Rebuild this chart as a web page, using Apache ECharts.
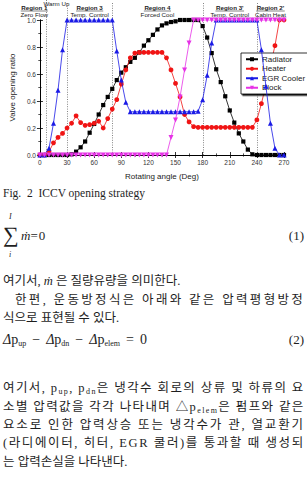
<!DOCTYPE html>
<html>
<head>
<meta charset="utf-8">
<script src="https://cdn.jsdelivr.net/npm/echarts@6/dist/echarts.min.js"></script>
<style>
html,body{margin:0;padding:0;background:#fff;width:307px;height:491px;overflow:hidden;}
#chart{position:absolute;left:0;top:0;width:307px;height:186px;}
.t{position:absolute;left:3px;width:301px;font-family:"Liberation Serif","Noto Sans CJK KR";font-size:12.5px;line-height:14px;color:#1e1e1e;white-space:nowrap;}
.ser{font-family:"Liberation Serif";}
sub{font-size:8px;vertical-align:-2px;line-height:0;}
.eq{position:absolute;font-family:"Liberation Serif";color:#1e1e1e;white-space:nowrap;}
.op{padding:0 6px;}
</style>
</head>
<body>
<div id="chart"></div>

<div class="t ser" style="top:186px;font-size:11.5px;">Fig.&nbsp; 2&nbsp; ICCV opening strategy</div>

<div class="eq" style="left:9px;top:212px;font-size:8px;line-height:10px;font-style:italic;">I</div>
<div class="eq" style="left:3px;top:223px;font-size:22px;line-height:24px;">&#8721;</div>
<div class="eq" style="left:9px;top:250px;font-size:8px;line-height:10px;font-style:italic;">i</div>
<div class="eq" style="left:21px;top:228px;font-size:13px;line-height:16px;"><i>&#7745;</i>=&#8202;0</div>
<div class="eq" style="right:3px;top:228px;font-size:13px;line-height:16px;">(1)</div>

<div class="t" style="top:274px;">여기서, <i>&#7745;</i> 은 질량유량을 의미한다.</div>
<div class="t j" style="top:293px;padding-left:12px;width:289px;">한편, 운동방정식은 아래와 같은 압력평형방정</div>
<div class="t" style="top:311px;">식으로 표현될 수 있다.</div>

<div class="eq" style="left:3px;top:332px;font-size:14px;line-height:16px;"><i>&#916;</i>p<sub>up</sub><span class="op">&#8722;</span><i>&#916;</i>p<sub>dn</sub><span class="op">&#8722;</span><i>&#916;</i>p<sub>elem</sub><span class="op">=</span>0</div>
<div class="eq" style="right:3px;top:332px;font-size:13px;line-height:16px;">(2)</div>

<div class="t j" style="top:381px;">여기서, p<sub>up</sub>, p<sub>dn</sub>은 냉각수 회로의 상류 및 하류의 요</div>
<div class="t j" style="top:400px;">소별 압력값을 각각 나타내며 △p<sub>elem</sub>은 펌프와 같은</div>
<div class="t j" style="top:418px;">요소로 인한 압력상승 또는 냉각수가 관, 열교환기</div>
<div class="t j" style="top:436px;">(라디에이터, 히터, EGR 쿨러)를 통과할 때 생성되</div>
<div class="t" style="top:455px;">는 압력손실을 나타낸다.</div>

<script>
// ---- data ----
const angles = [0,5,10,15,20,25,30,35,40,45,50,55,60,65,70,75,80,85,90,95,100,105,110,115,120,125,130,135,140,145,150,155,160,165,170,175,180,185,190,195,200,205,210,215,220,225,230,235,240,245,250,255,260,265,270];
const radiator = [0,0,0,0,0,0,0,0.005,0.025,0.057,0.10,0.165,0.23,0.30,0.37,0.43,0.49,0.555,0.61,0.65,0.69,0.72,0.76,0.81,0.85,0.89,0.93,0.96,0.975,0.985,0.99,1,1,1,1,1,0.955,0.87,0.755,0.635,0.54,0.435,0.33,0.24,0.16,0.10,0.04,0.005,0,0,0,0,0,0,0];
const heater = [0,0,0.025,0.09,0.13,0.16,0.20,0.235,0.29,0.24,0.22,0.225,0.235,0.25,0.20,0.27,0.34,0.41,0.525,0.63,0.72,0.755,0.76,0.76,0.76,0.76,0.76,0.76,0.72,0.63,0.53,0.43,0.30,0.245,0.21,0.205,0.205,0.205,0.205,0.205,0.205,0.205,0.205,0.205,0.205,0.205,0.205,0.205,0.26,0.38,0.52,0.66,0.81,1,1];
const egrCooler = [0,0,0.05,0.235,0.48,0.78,1,1,1,1,1,1,1,1,1,1,1,0.77,0.555,0.39,0.32,0.32,0.32,0.32,0.32,0.32,0.32,0.32,0.32,0.32,0.32,0.32,0.32,0.32,0.32,0.325,0.41,0.59,0.83,1,1,1,1,1,1,1,1,1,1,0.78,0.51,0.235,0.05,0,0];
const block = [0,0,0,0,0,0,0,0,0,0,0,0,0,0,0,0,0,0,0,0,0,0,0,0,0,0,0,0,0,0.13,0.26,0.43,0.63,0.83,1,1,1,1,1,1,1,1,1,1,1,1,1,1,1,1,1,1,1,1,1];
const seriesNames = ['Radiator','Heater','EGR Cooler','Block'];
const xTickValues = [0,30,60,90,120,150,180,210,240,270];
const yTickValues = [0.0,0.2,0.4,0.6,0.8,1.0];
const regionBounds = [0,6.5,30,80,180,240,270];
const regionTitles = ['Region 1','','Region 3','Region 4',"Region 3'","Region 2'"];
const regionSubtitles = ['Zero Flow','Warm Up','Temp. Control','Forced Cool','Temp. Control','Cabin Heat'];
const axisTitles = {x:'Rotating angle (Deg)', y:'Valve opening ratio'};

const colors = ['#000000','#f01414','#1a1ae6','#e632e6'];
const symbols = ['rect','circle','triangle','triangle'];
const symbolRot = [0,0,0,180];
const symbolSizes = [4.2,4.8,5,5];
const values = [radiator, heater, egrCooler, block];

const FONT = '"Liberation Sans", Arial, sans-serif';
const axisCommon = {
  type:'value', min:0, splitLine:{show:false},
  axisLine:{show:true, lineStyle:{color:'#000', width:1}},
  axisTick:{show:true, inside:true, length:3, lineStyle:{color:'#000', width:0.8}},
  minorTick:{show:true, splitNumber:2, length:1.6, lineStyle:{color:'#000', width:0.7}},
  minorSplitLine:{show:false}
};
const xMax = xTickValues[xTickValues.length-1];
const xInt = xTickValues[1]-xTickValues[0];
const yMax = yTickValues[yTickValues.length-1];
const yInt = yTickValues[1]-yTickValues[0];

const option = {
  animation:false,
  textStyle:{fontFamily:FONT},
  grid:{left:34, top:20, width:250, height:135, containLabel:false},
  xAxis:[
    Object.assign({}, axisCommon, {max:xMax, interval:xInt, position:'bottom',
      name:axisTitles.x, nameLocation:'middle', nameGap:17,
      nameTextStyle:{fontSize:8, color:'#222', fontFamily:FONT},
      axisLabel:{fontSize:6.5, color:'#333', margin:4, fontFamily:FONT}}),
    Object.assign({}, axisCommon, {max:xMax, interval:xInt, position:'top', axisLabel:{show:false}})
  ],
  yAxis:[
    Object.assign({}, axisCommon, {max:yMax, interval:yInt, position:'left',
      name:axisTitles.y, nameLocation:'middle', nameGap:18,
      nameTextStyle:{fontSize:8, color:'#222', fontFamily:FONT},
      axisLabel:{fontSize:6.5, color:'#333', margin:4, fontFamily:FONT, formatter:v=>v.toFixed(1)}}),
    Object.assign({}, axisCommon, {max:yMax, interval:yInt, position:'right', axisLabel:{show:false}})
  ],
  legend:{
    show:true, orient:'vertical', left:241, top:53,
    padding:[1.5,3,1.5,4], itemGap:0, itemWidth:12, itemHeight:5,
    backgroundColor:'#fff', borderColor:'#000', borderWidth:0.8,
    shadowColor:'rgba(0,0,0,0.9)', shadowBlur:1, shadowOffsetX:1.5, shadowOffsetY:1.5,
    textStyle:{fontSize:8, lineHeight:9.5, color:'#222', fontFamily:FONT, padding:[0,0,0,-1]},
    data:seriesNames
  },
  series: seriesNames.map((n,k)=>({
    name:n, type:'line',
    data: angles.map((a,i)=>[a, values[k][i]]),
    symbol:symbols[k], symbolSize:symbolSizes[k], symbolRotate:symbolRot[k],
    itemStyle:{color:colors[k]},
    lineStyle:{color:colors[k], width:0.8},
    emphasis:{disabled:true}, z:2+k
  }))
};

const chart = echarts.init(document.getElementById('chart'), null, {renderer:'svg'});
chart.setOption(option);

// region dividers and labels, positioned through the axis scale
const yBottom = chart.convertToPixel({yAxisIndex:0}, 0);
const measure = (txt, size) => {
  const c = document.createElement('canvas').getContext('2d');
  c.font = 'bold ' + size + 'px "Liberation Sans"';
  return c.measureText(txt).width;
};
const g = [];
for (let i=1;i<regionBounds.length-1;i++){
  const x = Math.round(chart.convertToPixel({xAxisIndex:0}, regionBounds[i])) + 0.5;
  g.push({type:'line', silent:true, z:1, shape:{x1:x, y1:(i===1?0:3), x2:x, y2:yBottom},
    style:{stroke:'#666', lineWidth:0.8, lineDash:[1,1.4]}});
}
for (let r=0;r<regionTitles.length;r++){
  const xa = chart.convertToPixel({xAxisIndex:0}, regionBounds[r]);
  const xb = chart.convertToPixel({xAxisIndex:0}, regionBounds[r+1]);
  let cx = (xa+xb)/2;
  if (r===0) cx = xb - 11.5;
  const fs = 6.2;
  if (regionTitles[r]){
    g.push({type:'text', silent:true, x:cx, y:7.5, style:{text:regionTitles[r], fontSize:fs, fontFamily:FONT, fill:'#222', align:'center', verticalAlign:'middle', fontWeight:'bold'}});
    const w = measure(regionTitles[r], fs) + 1;
    g.push({type:'line', silent:true, shape:{x1:cx-w/2, y1:11, x2:cx+w/2, y2:11}, style:{stroke:'#333', lineWidth:0.6}});
  }
  const sy = regionTitles[r] ? 14.5 : 3.6;
  g.push({type:'text', silent:true, x:cx, y:sy, style:{text:regionSubtitles[r], fontSize:fs, fontFamily:FONT, fill:'#222', align:'center', verticalAlign:'middle'}});
}
chart.setOption({graphic:g});

// justify the full-width text lines by spreading the letters evenly
document.querySelectorAll('.j').forEach(el => {
  const span = document.createElement('span');
  span.innerHTML = el.innerHTML;
  el.innerHTML = '';
  el.appendChild(span);
  const natural = span.getBoundingClientRect().width;
  const target = el.clientWidth - (parseFloat(getComputedStyle(el).paddingLeft) || 0);
  const n = Array.from(span.textContent).length;
  if (n > 1 && target > natural) span.style.letterSpacing = ((target - natural) / (n - 0.5)) + 'px';
});
</script>
</body>
</html>
